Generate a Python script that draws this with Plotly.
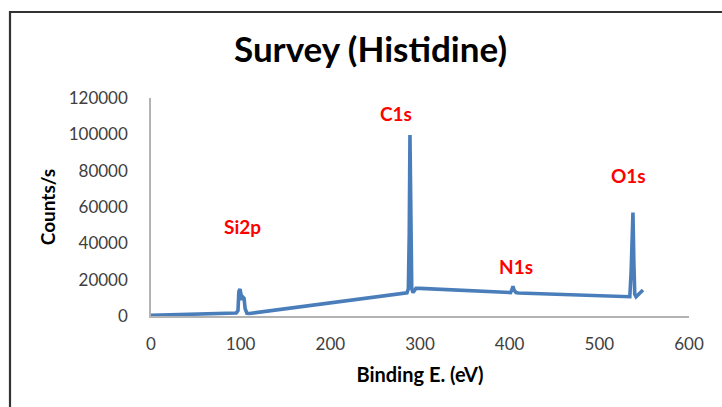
import plotly.graph_objects as go

# Binding energy (eV) and counts/s
energy = [0, 50, 95, 97, 98, 99.3, 100.5, 101.5, 103, 103.8, 105, 107, 110,
          150, 200, 250, 285.5, 287, 288, 288.8, 289.8, 290.8, 292.2, 294, 295.5, 300,
          350, 395, 401, 402.5, 403.7, 405, 407, 410, 450, 500, 530, 534,
          535.5, 536.5, 537.5, 538.5, 539.5, 541, 544, 546.5, 548.7]
counts = [400, 900, 1600, 3000, 13500, 14800, 10500, 8800, 10200, 9800, 4000, 1500, 1400,
          4000, 7300, 10400, 12800, 15000, 45000, 99600, 40000, 15000, 12900, 14500, 15200, 15200,
          14000, 12800, 12900, 14500, 16400, 14200, 12900, 12700, 11900, 11100, 10600, 10600,
          25000, 50000, 56900, 30000, 12000, 10600, 11800, 12800, 14300]

peak_labels = ["C1s", "O1s", "N1s", "Si2p"]
peak_label_x = [273, 532, 407, 101.5]
peak_label_y = [111700, 77600, 27500, 49000]

x_ticks = [0, 100, 200, 300, 400, 500, 600]
y_ticks = [0, 20000, 40000, 60000, 80000, 100000, 120000]

FONT = "Lato"

fig = go.Figure()
fig.add_trace(go.Scatter(x=energy, y=counts, mode="lines",
                         line=dict(color="#4a7ebb", width=3.6),
                         hoverinfo="skip", showlegend=False))

for t, px_, py_ in zip(peak_labels, peak_label_x, peak_label_y):
    fig.add_annotation(x=px_, y=py_, xref="x", yref="y", text=f"<b>{t}</b>",
                       showarrow=False, font=dict(family=FONT, size=19, color="#ff0000"))

# chart title (positioned relative to plot area: x 151..689 px, y 316..98 px)
fig.add_annotation(x=(370 - 151) / 538, y=(316 - 48) / 218, xref="paper", yref="paper",
                   text="<b>Survey (Histidine)</b>",
                   showarrow=False, font=dict(family=FONT, size=35, color="#000000"),
                   xanchor="center", yanchor="middle")

fig.update_layout(
    width=722, height=407,
    margin=dict(l=151, r=33, t=98, b=91),
    paper_bgcolor="white", plot_bgcolor="white",
    font=dict(family=FONT, color="#404040"),
    xaxis=dict(range=[0, 600], tickvals=x_ticks, ticktext=[str(v) for v in x_ticks],
               showgrid=False, zeroline=False, showline=True, linecolor="#b3b3b3", linewidth=1.5,
               ticks="", ticklabelstandoff=12, tickfont=dict(family=FONT, size=17, color="#404040"),
               title=dict(text="<b>Binding E. (eV)</b>", font=dict(family=FONT, size=20, color="#000000"),
                          standoff=15)),
    yaxis=dict(range=[0, 120000], tickvals=y_ticks, ticktext=[str(v) for v in y_ticks],
               showgrid=False, zeroline=False, showline=True, linecolor="#b3b3b3", linewidth=1.5,
               ticks="", ticklabelstandoff=18, tickfont=dict(family=FONT, size=17, color="#404040"),
               title=dict(text="<b>Counts/s</b>", font=dict(family=FONT, size=19, color="#000000"),
                          standoff=8)),
)

# outer chart border (extends past right and bottom edges of the image)
fig.add_shape(type="rect", xref="paper", yref="paper",
              x0=(10 - 151) / 538, x1=1.3, y0=-0.8, y1=(316 - 12) / 218,
              line=dict(color="#333333", width=2.2), fillcolor="rgba(0,0,0,0)", layer="below")

fig.write_html("out.html")
